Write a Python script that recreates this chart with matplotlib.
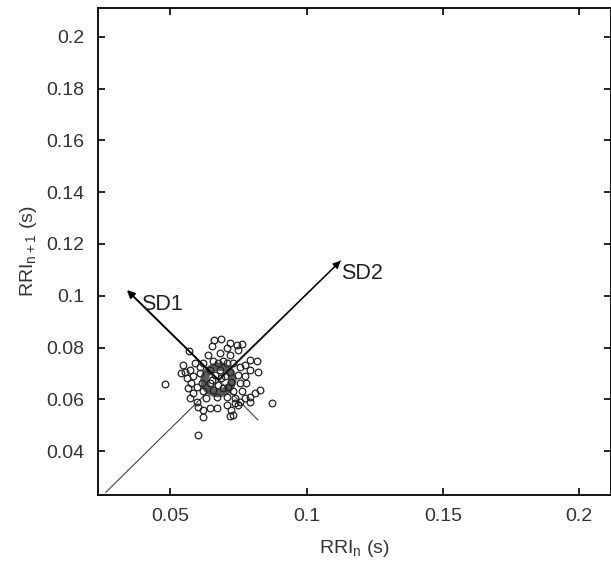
import matplotlib
matplotlib.use("Agg")
import matplotlib.pyplot as plt
from matplotlib.patches import Ellipse

plt.rcParams['font.family'] = ['Liberation Sans', 'DejaVu Sans']

# --- data ---
rri_n = [0.0659, 0.0687, 0.0718, 0.0745, 0.0761, 0.0651, 0.0706, 0.0749, 0.0718, 0.0681, 0.0638,
         0.0792, 0.0816, 0.0822, 0.0792, 0.0773, 0.0828, 0.0810, 0.0792, 0.0773, 0.0755, 0.0792,
         0.0547, 0.0540, 0.0559, 0.0553, 0.0571, 0.0577, 0.0565, 0.0583, 0.0571, 0.0596, 0.0589,
         0.0620, 0.0645, 0.0669, 0.0724, 0.0730, 0.0749, 0.0620, 0.0718, 0.0736, 0.0706, 0.0602,
         0.0620, 0.0657, 0.0694, 0.0730, 0.0755, 0.0608, 0.0645, 0.0681, 0.0718, 0.0749, 0.0614,
         0.0651, 0.0687, 0.0724, 0.0755, 0.0620, 0.0657, 0.0694, 0.0730, 0.0761, 0.0632, 0.0669,
         0.0706, 0.0736, 0.0645, 0.0675, 0.0712, 0.0663, 0.0700, 0.0608, 0.0583, 0.0596, 0.0773,
         0.0779, 0.0706, 0.0675,
         0.0479, 0.0601, 0.0568, 0.0872]
rri_n1 = [0.0829, 0.0832, 0.0816, 0.0810, 0.0814, 0.0804, 0.0797, 0.0791, 0.0771, 0.0778, 0.0771,
          0.0752, 0.0746, 0.0707, 0.0713, 0.0733, 0.0636, 0.0623, 0.0610, 0.0604, 0.0591, 0.0591,
          0.0733, 0.0701, 0.0681, 0.0707, 0.0713, 0.0662, 0.0643, 0.0623, 0.0604, 0.0591, 0.0739,
          0.0559, 0.0565, 0.0565, 0.0559, 0.0540, 0.0578, 0.0531, 0.0536, 0.0585, 0.0578, 0.0572,
          0.0739, 0.0746, 0.0746, 0.0739, 0.0726, 0.0701, 0.0713, 0.0713, 0.0707, 0.0694, 0.0662,
          0.0675, 0.0681, 0.0668, 0.0662, 0.0630, 0.0636, 0.0643, 0.0630, 0.0630, 0.0604, 0.0610,
          0.0610, 0.0604, 0.0662, 0.0655, 0.0649, 0.0694, 0.0688, 0.0726, 0.0688, 0.0649, 0.0688,
          0.0662, 0.0739, 0.0739,
          0.0659, 0.0462, 0.0787, 0.0586]

center = (0.0676, 0.0675)
sd1_start, sd1_tip = (0.0821, 0.0520), (0.0340, 0.1022)
sd2_start, sd2_tip = (0.0262, 0.0240), (0.1125, 0.1135)
sd1_label = (0.0392, 0.0966)
sd2_label = (0.1125, 0.1085)

xticks = [0.05, 0.1, 0.15, 0.2]
yticks = [0.04, 0.06, 0.08, 0.1, 0.12, 0.14, 0.16, 0.18, 0.2]

fig = plt.figure(figsize=(6.11, 5.62), dpi=100)
ax = fig.add_axes([0.1605, 0.1192, 0.8396, 0.8666])

# identity line and its perpendicular
ax.plot([sd2_start[0], sd2_tip[0]], [sd2_start[1], sd2_tip[1]], color='#444444', lw=0.8)
ax.plot([sd1_start[0], center[0]], [sd1_start[1], center[1]], color='#444444', lw=0.8)

# dense core of the cloud
ax.add_patch(Ellipse(center, 0.0105, 0.0100, angle=45, fill=False,
                     edgecolor='#5a5a5a', lw=6, zorder=1))

ax.plot(rri_n, rri_n1, linestyle='none', marker='o', markersize=4.8,
        markerfacecolor='none', markeredgecolor='#222222', markeredgewidth=0.9)

ax.annotate('', xy=sd1_tip, xytext=center,
            arrowprops=dict(arrowstyle='-|>', color='black', lw=1.4,
                            mutation_scale=11, shrinkA=0, shrinkB=0))
ax.annotate('', xy=sd2_tip, xytext=center,
            arrowprops=dict(arrowstyle='-|>', color='black', lw=1.0,
                            mutation_scale=11, shrinkA=0, shrinkB=0))
ax.text(*sd1_label, 'SD1', fontsize=15.5, va='center', ha='left', color='#222222')
ax.text(*sd2_label, 'SD2', fontsize=15.5, va='center', ha='left', color='#222222')

ax.set_xlim(0.0234, 0.2118)
ax.set_ylim(0.0230, 0.2112)
ax.set_xticks(xticks)
ax.set_xticklabels(['0.05', '0.1', '0.15', '0.2'])
ax.set_yticks(yticks)
ax.set_yticklabels(['0.04', '0.06', '0.08', '0.1', '0.12', '0.14', '0.16', '0.18', '0.2'])
ax.tick_params(axis='x', direction='in', length=5, width=1.2, top=True,
               labelsize=14, labelcolor='#333333', pad=9)
ax.tick_params(axis='y', direction='in', length=5, width=1.2, right=True,
               labelsize=14, labelcolor='#333333', pad=10)
for s in ax.spines.values():
    s.set_linewidth(1.3)

ax.set_xlabel('RRI$_\\mathregular{n}$ (s)', fontsize=14, color='#333333', labelpad=10)
ax.set_ylabel('RRI$_\\mathregular{n+1}$ (s)', fontsize=14, color='#333333', labelpad=5)

fig.savefig('out.png', dpi=100)
